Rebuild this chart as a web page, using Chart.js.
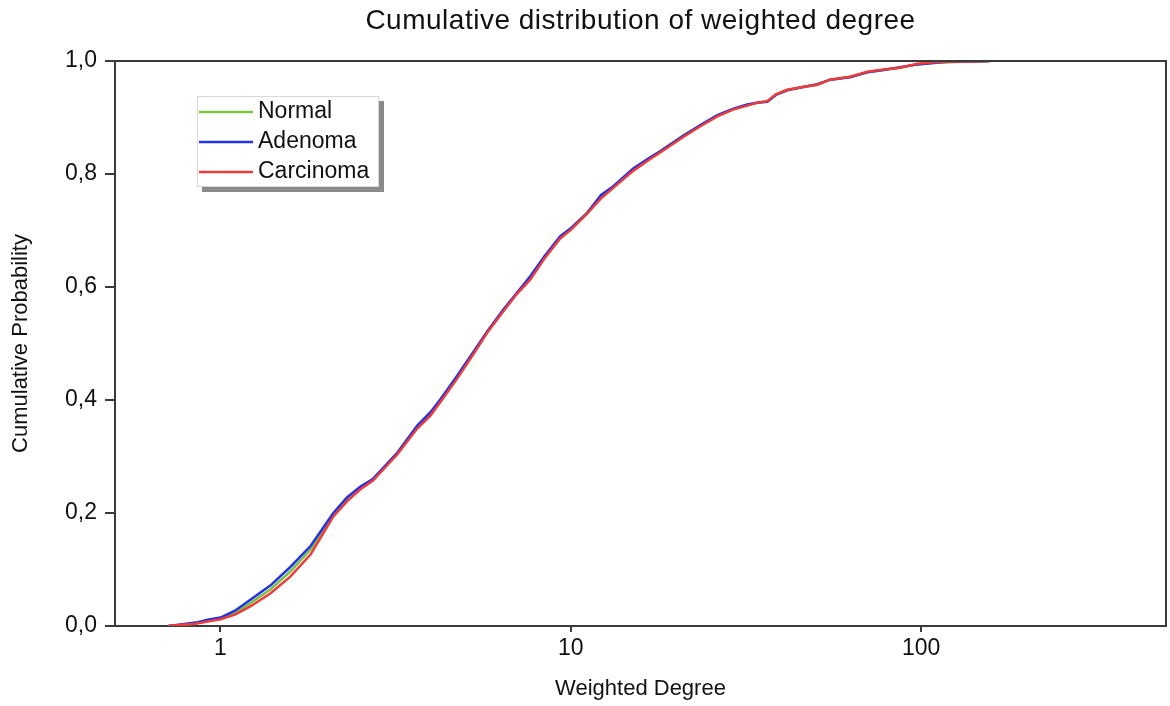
<!DOCTYPE html>
<html>
<head>
<meta charset="utf-8">
<script src="https://cdn.jsdelivr.net/npm/chart.js@4.4.1/dist/chart.umd.min.js"></script>
<style>
  html, body { margin: 0; padding: 0; background: #ffffff; }
  #wrap { width: 1170px; height: 706px; }
</style>
</head>
<body>
<div id="wrap"><canvas id="c" width="1170" height="706"></canvas></div>
<script>
// ---- data ----
const chartTitle = "Cumulative distribution of weighted degree";
const xTitle = "Weighted Degree";
const yTitle = "Cumulative Probability";
const seriesNames = ["Normal", "Adenoma", "Carcinoma"];
const seriesColors = ["#7cc142", "#2233e6", "#ee3b3b"];
const xTickValues = [1, 10, 100];
const yTickValues = [0, 0.2, 0.4, 0.6, 0.8, 1.0];

const degrees = [0.71, 0.78, 0.85, 0.92, 1.0, 1.1, 1.22, 1.39, 1.58, 1.81, 2.1, 2.3, 2.51, 2.72, 3.2, 3.65, 3.97, 4.24, 4.68, 5.27, 5.8, 6.42, 7.0, 7.66, 8.4, 9.33, 10, 11.1, 12.2, 13.2, 15.1, 16.9, 18.0, 20.9, 23.5, 26.2, 29, 31.9, 34, 36.4, 38.5, 41.5, 46, 50.5, 55, 62.7, 70.2, 78, 87, 97.5, 110, 121, 140, 157];

const normal    = [0.000, 0.002, 0.005, 0.009, 0.013, 0.023, 0.041, 0.065, 0.096, 0.136, 0.197, 0.223, 0.243, 0.258, 0.306, 0.352, 0.374, 0.398, 0.435, 0.483, 0.522, 0.559, 0.588, 0.616, 0.652, 0.688, 0.703, 0.731, 0.760, 0.777, 0.808, 0.829, 0.840, 0.868, 0.886, 0.903, 0.914, 0.922, 0.926, 0.929, 0.941, 0.949, 0.954, 0.958, 0.967, 0.972, 0.980, 0.984, 0.988, 0.994, 0.997, 0.998, 0.999, 1.000];
const adenoma   = [0.000, 0.003, 0.006, 0.011, 0.015, 0.027, 0.047, 0.072, 0.104, 0.142, 0.200, 0.228, 0.247, 0.260, 0.307, 0.355, 0.378, 0.401, 0.438, 0.485, 0.523, 0.560, 0.589, 0.619, 0.654, 0.690, 0.704, 0.730, 0.763, 0.778, 0.810, 0.830, 0.840, 0.867, 0.887, 0.904, 0.915, 0.923, 0.926, 0.928, 0.940, 0.948, 0.954, 0.959, 0.967, 0.971, 0.980, 0.984, 0.989, 0.994, 0.997, 0.999, 0.999, 1.000];
const carcinoma = [0.000, 0.002, 0.004, 0.008, 0.012, 0.020, 0.035, 0.058, 0.087, 0.127, 0.194, 0.221, 0.242, 0.257, 0.304, 0.350, 0.372, 0.396, 0.433, 0.481, 0.521, 0.557, 0.587, 0.613, 0.650, 0.686, 0.701, 0.729, 0.757, 0.775, 0.806, 0.827, 0.838, 0.865, 0.885, 0.902, 0.914, 0.921, 0.926, 0.929, 0.941, 0.949, 0.954, 0.958, 0.967, 0.972, 0.981, 0.985, 0.988, 0.995, 0.998, 0.999, 0.999, 1.000];

const seriesValues = [normal, adenoma, carcinoma];

const FONT = "'Liberation Sans', Arial, Helvetica, sans-serif";
const AXIS_COLOR = "#3a3a3a";
const TEXT_COLOR = "#111111";

const datasets = seriesNames.map((name, i) => ({
  label: name,
  data: degrees.map((d, j) => ({ x: d, y: seriesValues[i][j] })),
  borderColor: seriesColors[i],
  backgroundColor: seriesColors[i],
  borderWidth: 2.5,
  pointRadius: 0,
  tension: 0,
  fill: false,
  order: seriesNames.length - i
}));

const titlePlugin = {
  id: 'centeredTitle',
  afterDraw(chart) {
    const { ctx, chartArea } = chart;
    ctx.save();
    ctx.font = "28px " + FONT;
    if ('letterSpacing' in ctx) ctx.letterSpacing = '0.5px';
    ctx.fillStyle = TEXT_COLOR;
    ctx.textAlign = 'center';
    ctx.textBaseline = 'middle';
    ctx.fillText(chartTitle, (chartArea.left + chartArea.right) / 2, 21);
    ctx.restore();
  }
};

const framePlugin = {
  id: 'frame',
  afterDraw(chart) {
    const { ctx, chartArea } = chart;
    ctx.save();
    ctx.strokeStyle = AXIS_COLOR;
    ctx.lineWidth = 2;
    ctx.beginPath();
    ctx.moveTo(chartArea.left, chartArea.top);
    ctx.lineTo(chartArea.right, chartArea.top);
    ctx.lineTo(chartArea.right, chartArea.bottom);
    ctx.stroke();
    ctx.restore();
  }
};

const legendPlugin = {
  id: 'boxLegend',
  afterDraw(chart) {
    const { ctx, chartArea } = chart;
    const bx = chartArea.left + 82, by = chartArea.top + 35, bw = 182, bh = 91;
    ctx.save();
    ctx.fillStyle = "#8a8a8a";
    ctx.fillRect(bx + 5, by + 5, bw, bh);
    ctx.fillStyle = "#ffffff";
    ctx.fillRect(bx, by, bw, bh);
    ctx.strokeStyle = "#d8d8d8";
    ctx.lineWidth = 1;
    ctx.strokeRect(bx + 0.5, by + 0.5, bw - 1, bh - 1);
    ctx.font = "23px " + FONT;
    ctx.textBaseline = 'middle';
    ctx.textAlign = 'left';
    chart.data.datasets.forEach((ds, i) => {
      const y = by + 16 + i * 30;
      ctx.strokeStyle = ds.borderColor;
      ctx.lineWidth = 2.5;
      ctx.beginPath();
      ctx.moveTo(bx + 2, y);
      ctx.lineTo(bx + 56, y);
      ctx.stroke();
      ctx.fillStyle = TEXT_COLOR;
      ctx.fillText(ds.label, bx + 61, y);
    });
    ctx.restore();
  }
};

new Chart(document.getElementById('c'), {
  type: 'line',
  data: { datasets },
  options: {
    responsive: false,
    animation: false,
    layout: { padding: { top: 61, right: 4, left: 0, bottom: 0 } },
    plugins: {
      legend: { display: false },
      title: { display: false },
      tooltip: { enabled: false }
    },
    scales: {
      x: {
        type: 'logarithmic',
        min: 0.5,
        max: 500,
        afterFit(scale) { scale.height = 80; },
        afterBuildTicks(scale) { scale.ticks = xTickValues.map(v => ({ value: v })); },
        ticks: {
          autoSkip: false,
          maxRotation: 0,
          padding: 3,
          color: TEXT_COLOR,
          font: { family: FONT, size: 23 },
          callback: (v) => String(v)
        },
        grid: { drawOnChartArea: false, drawTicks: true, tickLength: 6, color: AXIS_COLOR, lineWidth: 2 },
        border: { display: true, color: AXIS_COLOR, width: 2 },
        title: { display: true, text: xTitle, color: TEXT_COLOR, font: { family: FONT, size: 22 }, padding: { top: 4, bottom: 4 } }
      },
      y: {
        type: 'linear',
        min: 0,
        max: 1,
        afterFit(scale) { scale.width = 115; },
        afterBuildTicks(scale) { scale.ticks = yTickValues.map(v => ({ value: v })); },
        ticks: {
          padding: 8,
          color: TEXT_COLOR,
          font: { family: FONT, size: 23 },
          callback: (v) => Number(v).toFixed(1).replace('.', ',')
        },
        grid: { drawOnChartArea: false, drawTicks: true, tickLength: 10, color: AXIS_COLOR, lineWidth: 2 },
        border: { display: true, color: AXIS_COLOR, width: 2 },
        title: { display: true, text: yTitle, color: TEXT_COLOR, font: { family: FONT, size: 22 }, padding: { top: 8, bottom: 4 } }
      }
    }
  },
  plugins: [titlePlugin, framePlugin, legendPlugin]
});
</script>
</body>
</html>
